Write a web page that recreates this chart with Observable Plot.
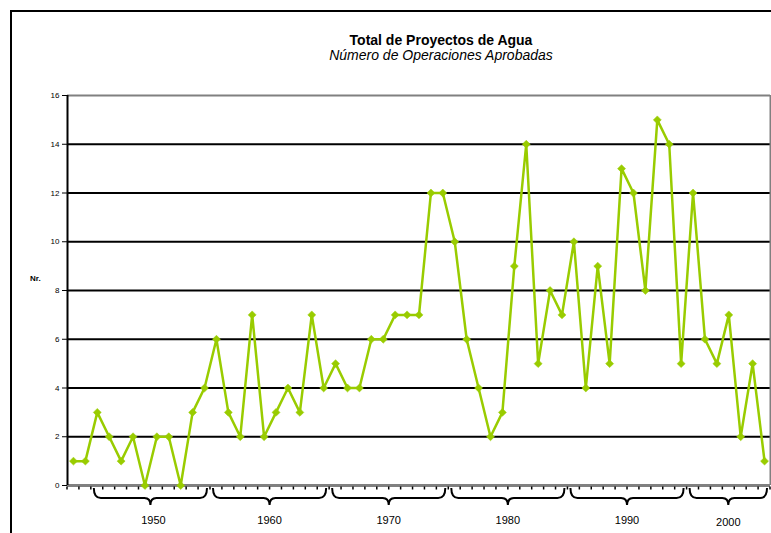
<!DOCTYPE html>
<html>
<head>
<meta charset="utf-8">
<script src="https://cdn.jsdelivr.net/npm/d3@7"></script>
<script src="https://cdn.jsdelivr.net/npm/@observablehq/plot@0.6"></script>
<style>
  html, body { margin: 0; padding: 0; background: #fff; overflow: hidden; }
  body { width: 771px; height: 533px; position: relative; font-family: Arial, "Liberation Sans", sans-serif; }
  #frame { position: absolute; left: 10px; top: 10px; width: 1000px; height: 800px; border-left: 2px solid #000; border-top: 2px solid #000; }
  #title { position: absolute; left: 241px; width: 400px; top: 32px; text-align: center; font-size: 14px; font-weight: bold; line-height: 16px; color: #000; }
  #subtitle { position: absolute; left: 241px; width: 400px; top: 47px; text-align: center; font-size: 14px; font-style: italic; line-height: 16px; color: #000; }
  #ylabel { position: absolute; left: 30px; top: 274px; font-size: 8px; font-weight: bold; line-height: 10px; color: #000; }
  #chart { position: absolute; left: 0; top: 0; }
</style>
</head>
<body>
<div id="frame"></div>
<div id="title">Total de Proyectos de Agua</div>
<div id="subtitle">Número de Operaciones Aprobadas</div>
<div id="ylabel">Nr.</div>
<div id="chart"></div>
<script>
// ---- data ----
const years = [1948, 1949, 1950, 1951, 1952, 1953, 1954, 1955, 1956, 1957,
  1958, 1959, 1960, 1961, 1962, 1963, 1964, 1965, 1966, 1967,
  1968, 1969, 1970, 1971, 1972, 1973, 1974, 1975, 1976, 1977,
  1978, 1979, 1980, 1981, 1982, 1983, 1984, 1985, 1986, 1987,
  1988, 1989, 1990, 1991, 1992, 1993, 1994, 1995, 1996, 1997,
  1998, 1999, 2000, 2001, 2002, 2003, 2004, 2005, 2006];
const projects = [1, 1, 3, 2, 1, 2, 0, 2, 2, 0,
  3, 4, 6, 3, 2, 7, 2, 3, 4, 3,
  7, 4, 5, 4, 4, 6, 6, 7, 7, 7,
  12, 12, 10, 6, 4, 2, 3, 9, 14, 5,
  8, 7, 10, 4, 9, 5, 13, 12, 8, 15,
  14, 5, 12, 6, 5, 7, 2, 5, 1];
const groupLabels = ["1950", "1960", "1970", "1980", "1990", "2000"];
const groupStart = [1950, 1960, 1970, 1980, 1990, 2000];
const groupEnd = [1959, 1969, 1979, 1989, 1999, 2006];
const yTicks = [0, 2, 4, 6, 8, 10, 12, 14, 16];

const data = years.map((yr, i) => ({year: yr, value: projects[i]}));
const groups = groupLabels.map((l, i) => ({label: l, start: groupStart[i], end: groupEnd[i]}));
const xMin = years[0] - 0.5, xMax = years[years.length - 1] + 0.5;
const inner = yTicks.slice(1, -1);

const green = "#99cc00";

// custom mark: year ticks below the axis, decade braces & labels
function decadeAxis(index, scales) {
  const x = scales.x, y = scales.y;
  const g = d3.create("svg:g");
  const y0 = y(0);
  const bounds = years.map(v => v - 0.5).concat([xMax]);
  g.append("g").attr("stroke", "#000").attr("stroke-width", 1.5)
    .selectAll("line").data(bounds).join("line")
    .attr("x1", d => x(d)).attr("x2", d => x(d))
    .attr("y1", y0 + 1.5).attr("y2", y0 + 4.5);
  const yTop = y0 + 3, yH = y0 + 13, yDip = y0 + 20;
  g.append("g").attr("fill", "none").attr("stroke", "#000").attr("stroke-width", 2)
    .selectAll("path").data(groups).join("path")
    .attr("d", d => {
      const x0 = x(d.start - 0.5) + 3, x1 = x(d.end + 0.5) - 3, xc = (x0 + x1) / 2;
      return `M${x0},${yTop} Q${x0},${yH} ${x0 + 7},${yH} L${xc - 6},${yH} Q${xc},${yH} ${xc},${yDip}` +
             ` Q${xc},${yH} ${xc + 6},${yH} L${x1 - 7},${yH} Q${x1},${yH} ${x1},${yTop}`;
    });
  g.append("g").attr("font-size", "11px").attr("font-family", "Arial, 'Liberation Sans', sans-serif")
    .attr("fill", "#000").attr("text-anchor", "middle")
    .selectAll("text").data(groups).join("text")
    .attr("x", (d, i) => (x(d.start - 0.5) + x(d.end + 0.5)) / 2 + (i === 0 ? 3 : 0))
    .attr("y", (d, i) => y0 + 39 + (i === groups.length - 1 ? 2 : 0))
    .text(d => d.label);
  return g.node();
}

const chart = Plot.plot({
  width: 771,
  height: 533,
  marginLeft: 67,
  marginRight: 1,
  marginTop: 95,
  marginBottom: 48,
  style: {background: "transparent", fontFamily: "Arial, 'Liberation Sans', sans-serif", fontSize: "8px", color: "#000", overflow: "visible"},
  x: {domain: [xMin, xMax], axis: null},
  y: {domain: [0, 16], ticks: yTicks, tickSize: 5, tickPadding: 3, label: null, tickFormat: d => String(d)},
  marks: [
    Plot.ruleY(inner, {stroke: "#000", strokeWidth: 2}),
    Plot.ruleY([16], {stroke: "#808080", strokeWidth: 2}),
    Plot.ruleX([xMax], {stroke: "#808080", strokeWidth: 2}),
    Plot.ruleY([0], {stroke: "#808080", strokeWidth: 3}),
    Plot.ruleX([xMin], {stroke: "#000", strokeWidth: 2}),
    Plot.line(data, {x: "year", y: "value", stroke: green, strokeWidth: 2.5}),
    Plot.dot(data, {x: "year", y: "value", symbol: "diamond2", r: 3.6, fill: green, stroke: green, strokeWidth: 0.5}),
    decadeAxis
  ]
});
document.getElementById("chart").appendChild(chart);
</script>
</body>
</html>
